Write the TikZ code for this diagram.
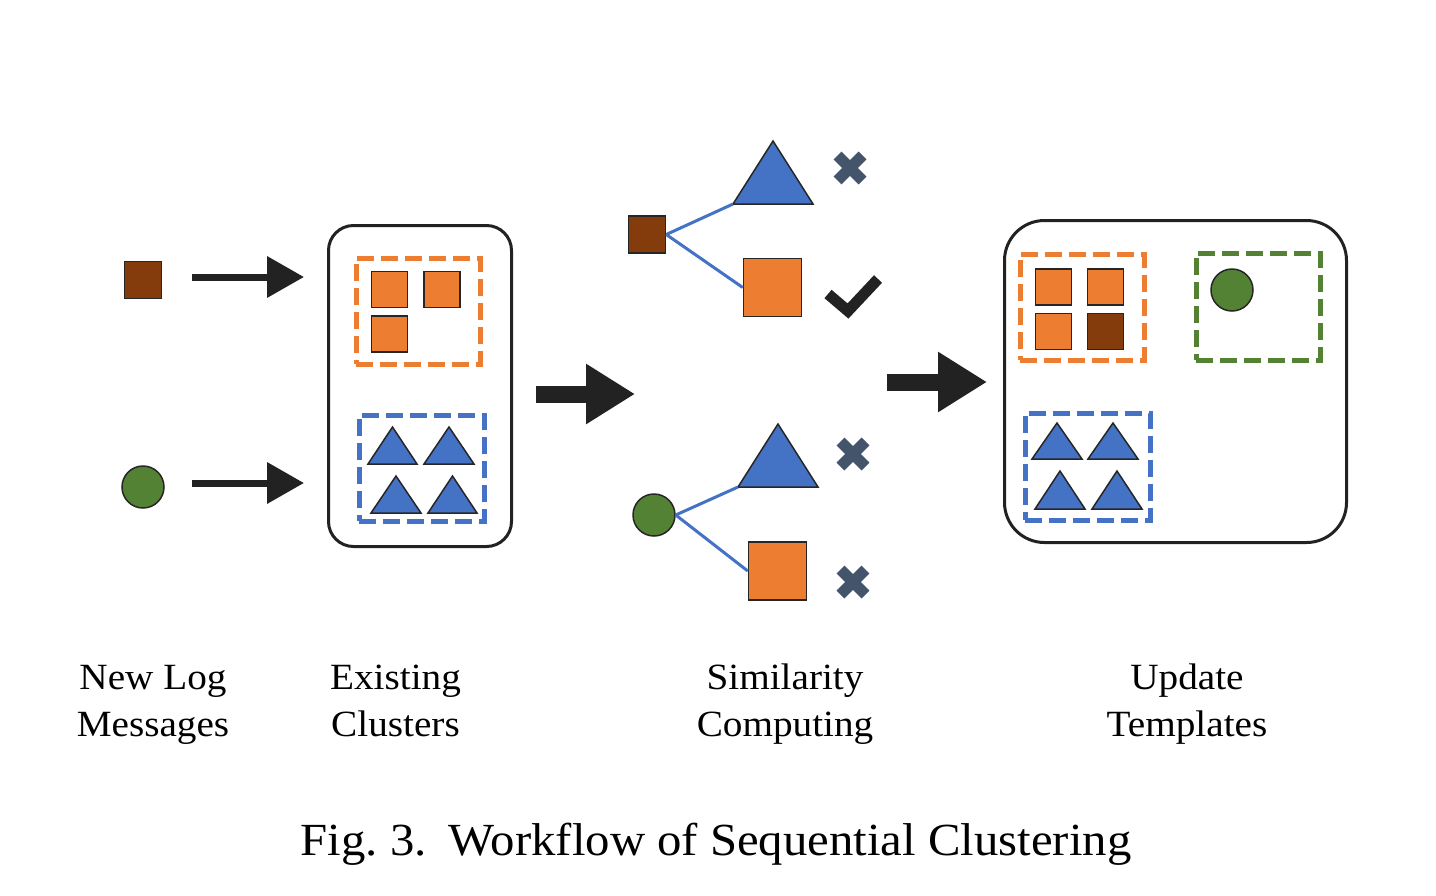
\documentclass[tikz,border=0pt]{standalone}
\usepackage{fontspec}
\setmainfont[FakeStretch=1.06]{Liberation Serif}
\usepackage{graphicx}
\usetikzlibrary{arrows.meta}
\definecolor{orng}{HTML}{ED7D31}
\definecolor{blu}{HTML}{4472C4}
\definecolor{grn}{HTML}{548235}
\definecolor{brwn}{HTML}{843C0C}
\definecolor{slate}{HTML}{44546A}
\definecolor{ink}{HTML}{222222}
\definecolor{edge}{HTML}{262626}
\newcommand\tria[5]{\draw[tri] (#2,#5) coordinate (#1) -- (#3,#5) -- ({(#2+#3)/2},#4) -- cycle;}
\newcommand\xcross[1]{\draw[xmark] ([shift={(-12.5,-12.5)}]#1) -- ([shift={(12.5,12.5)}]#1) ([shift={(-12.5,12.5)}]#1) -- ([shift={(12.5,-12.5)}]#1);}
\begin{document}
\begin{tikzpicture}[x=1pt,y=-1pt,
  sqbox/.style={rectangle, draw=edge, line width=1.5pt, inner sep=0pt, minimum size=#1},
  dot/.style={circle, draw=edge, line width=1.5pt, fill=grn, minimum size=42pt, inner sep=0pt},
  clusterbox/.style={rectangle, draw=#1, line width=5pt, dash pattern=on 17pt off 7pt, inner sep=0pt},
  panel/.style={rectangle, draw=ink, line width=3pt, inner sep=0pt},
  tri/.style={fill=blu, draw=edge, line width=1.5pt, line join=miter},
  link/.style={draw=blu, line width=3pt},
  thinarrow/.style={draw=ink, line width=7pt, -{Triangle[length=37pt,width=40pt]}},
  fatarrow/.style={draw=ink, line width=17pt, -{Triangle[length=49pt,width=57pt]}},
  xmark/.style={draw=slate, line width=11pt},
  tick/.style={draw=ink, line width=11pt, line join=miter},
  lbl/.style={anchor=north, align=center, inner sep=0pt, font=\fontsize{37}{47}\selectfont},
]
\useasboundingbox[fill=white] (0,0) rectangle (1436,895);

% ---- column 1: new log messages
\node[sqbox=37pt, fill=brwn] (newsq) at (143,280) {};
\node[dot] (newdot) at (143,487) {};
\coordinate (a1s) at (192,277); \coordinate (a1e) at (304,277);
\coordinate (a2s) at (192,483); \coordinate (a2e) at (304,483);
\draw[thinarrow] (a1s) -- (a1e);
\draw[thinarrow] (a2s) -- (a2e);

% ---- column 2: existing clusters
\node[panel, rounded corners=25pt, minimum width=183pt, minimum height=321pt] (exist) at (420,386) {};
\node[clusterbox=orng, minimum width=124pt, minimum height=106pt] (exorange) at (418,311) {};
\node[clusterbox=blu, minimum width=125pt, minimum height=106pt] (exblue) at (421.5,468) {};
\node[sqbox=36pt, fill=orng] (e1) at (389.5,289.5) {};
\node[sqbox=36pt, fill=orng] (e2) at (442,289.5) {};
\node[sqbox=36pt, fill=orng] (e3) at (389.5,334) {};
\tria{et1}{368}{417}{427}{464}
\tria{et2}{424}{474}{427}{464}
\tria{et3}{371}{421}{476}{513}
\tria{et4}{428}{477}{476}{513}

\coordinate (b1s) at (536,394); \coordinate (b1e) at (635,394);
\draw[fatarrow] (b1s) -- (b1e);

% ---- column 3: similarity computing
\node[sqbox=37pt, fill=brwn] (simsq) at (647,234.5) {};
\tria{st1}{733}{813}{141}{204}
\node[sqbox=58pt, fill=orng] (simo1) at (772.5,287.5) {};
\draw[link] (simsq.east) -- (st1);
\draw[link] (simsq.east) -- (simo1.west);
\coordinate (x1) at (850,168);
\xcross{x1}
\draw[tick] (828,294) -- (848,311) -- (878,279);

\node[dot] (simdot) at (654,515) {};
\tria{st2}{738}{818}{424}{487}
\node[sqbox=58pt, fill=orng] (simo2) at (777.5,571) {};
\draw[link] (simdot.east) -- (st2);
\draw[link] (simdot.east) -- (simo2.west);
\coordinate (x2) at (853,454);
\coordinate (x3) at (853,582);
\xcross{x2}
\xcross{x3}

\coordinate (b2s) at (887,382); \coordinate (b2e) at (987,382);
\draw[fatarrow] (b2s) -- (b2e);

% ---- column 4: update templates
\node[panel, rounded corners=40pt, minimum width=342pt, minimum height=322pt] (update) at (1175.5,381.5) {};
\node[clusterbox=orng, minimum width=124pt, minimum height=106pt] (uporange) at (1082,307) {};
\node[clusterbox=grn, minimum width=124pt, minimum height=107pt] (upgreen) at (1258,306.5) {};
\node[clusterbox=blu, minimum width=125pt, minimum height=107pt] (upblue) at (1087.5,466.5) {};
\node[sqbox=36pt, fill=orng] (u1) at (1053.5,287) {};
\node[sqbox=36pt, fill=orng] (u2) at (1105.5,287) {};
\node[sqbox=36pt, fill=orng] (u3) at (1053.5,331.5) {};
\node[sqbox=36pt, fill=brwn] (u4) at (1105.5,331.5) {};
\node[dot] (updot) at (1232,290) {};
\tria{ut1}{1032}{1082}{423}{459}
\tria{ut2}{1088}{1138}{423}{459}
\tria{ut3}{1035}{1085}{471}{509}
\tria{ut4}{1092}{1142}{471}{509}

% ---- labels
\node[lbl] (l1) at (153,656) {\strut New Log\\Messages};
\node[lbl] (l2) at (395.5,656) {\strut Existing\\Clusters};
\node[lbl] (l3) at (785,656) {\strut Similarity\\Computing};
\node[lbl] (l4) at (1187,656) {\strut Update\\Templates};

\node[anchor=base, inner sep=0pt, font=\fontsize{46}{55}\selectfont] (cap) at (716,855)
  {Fig.~3.\hspace{22pt}Workflow of Sequential Clustering};
\end{tikzpicture}
\end{document}
